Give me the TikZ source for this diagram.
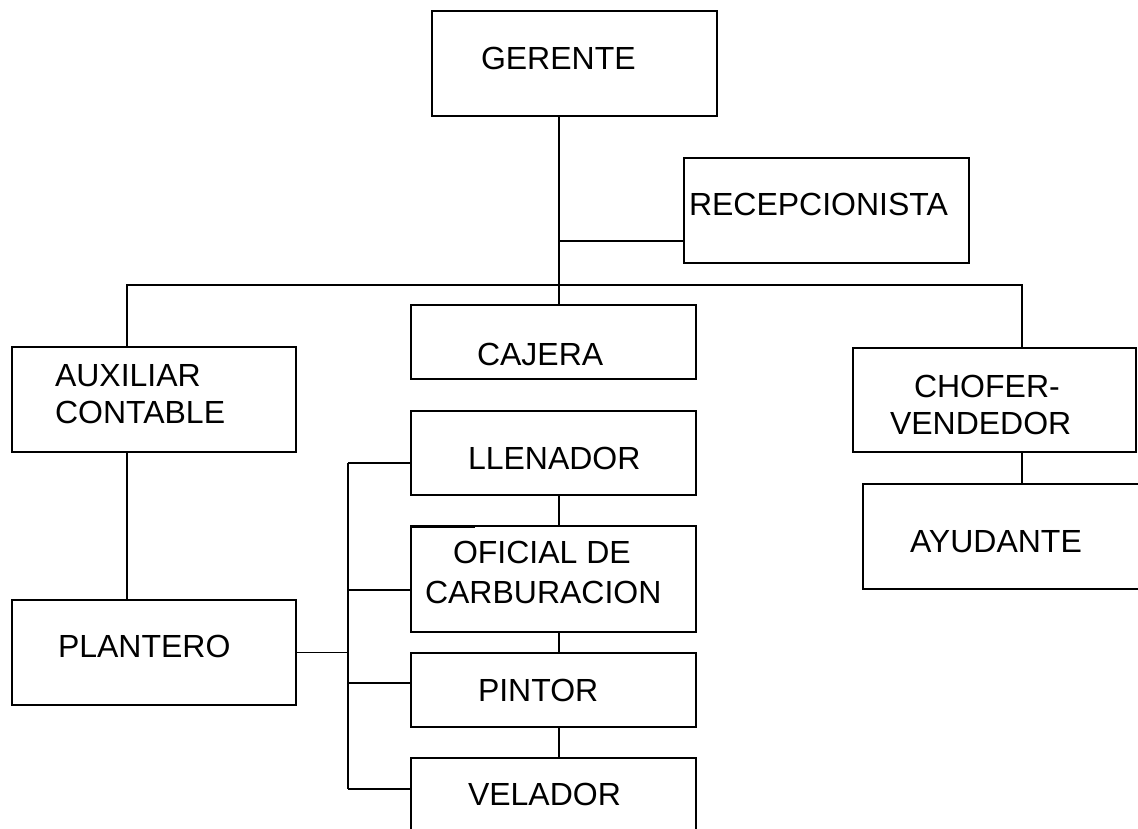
\documentclass[tikz,border=0pt]{standalone}
\usepackage{fontspec}
\setmainfont{Liberation Sans}
\begin{document}
\begin{tikzpicture}[x=1pt,y=-1pt,
  box/.style={draw=black, line width=1.5pt, inner sep=0pt, outer sep=0pt, fill=white},
  wire/.style={draw=black, line width=1.5pt},
  lbl/.style={anchor=base west, inner sep=0pt, outer sep=0pt, font=\fontsize{32}{37}\selectfont}]
\useasboundingbox (0,0) rectangle (1138,828);
\clip (0,0) rectangle (1138,828);

% bus and junction points
\coordinate (trunk) at (559,285);
\coordinate (recj)  at (559,241);
\coordinate (barL)  at (127,285);
\coordinate (barR)  at (1022,285);
\coordinate (bus)   at (348,652.5);
\coordinate (busT)  at (348,463);
\coordinate (busO)  at (348,590);
\coordinate (busP)  at (348,683);
\coordinate (busB)  at (348,789);

% boxes
\node[box, minimum width=285pt, minimum height=105pt] (ger) at (574.5,63.5) {};
\node[box, minimum width=285pt, minimum height=105pt] (rec) at (826.5,210.5) {};
\node[box, minimum width=285pt, minimum height=74pt]  (caj) at (553.5,342) {};
\node[box, minimum width=284pt, minimum height=105pt] (aux) at (154,399.5) {};
\node[box, minimum width=283pt, minimum height=104pt] (cho) at (994.5,400) {};
\node[box, minimum width=282pt, minimum height=105pt] (ayu) at (1004,536.5) {};
\node[box, minimum width=285pt, minimum height=84pt]  (lle) at (553.5,453) {};
\node[box, minimum width=285pt, minimum height=106pt] (ofi) at (553.5,579) {};
\node[box, minimum width=285pt, minimum height=74pt]  (pin) at (553.5,690) {};
\node[box, minimum width=285pt, minimum height=102pt] (vel) at (553.5,809) {};
\node[box, minimum width=284pt, minimum height=105pt] (pla) at (154,652.5) {};

% connectors
\draw[wire] (trunk |- ger.south) -- (trunk |- caj.north);
\draw[wire] (recj) -- (recj -| rec.west);
\draw[wire] (barL |- aux.north) -- (barL) -- (barR) -- (barR |- cho.north);
\draw[wire] (barL |- aux.south) -- (barL |- pla.north);
\draw[wire] (barR |- cho.south) -- (barR |- ayu.north);
\draw[wire] (bus -| pla.east) -- (bus);
\draw[wire] (busT) -- (busB);
\draw[wire] (busT) -- (busT -| lle.west);
\draw[wire] (busO) -- (busO -| ofi.west);
\draw[wire] (busP) -- (busP -| pin.west);
\draw[wire] (busB) -- (busB -| vel.west);
\draw[wire] (trunk |- lle.south) -- (trunk |- ofi.north);
\draw[wire] (trunk |- ofi.south) -- (trunk |- pin.north);
\draw[wire] (trunk |- pin.south) -- (trunk |- vel.north);
\draw[line width=2pt] ([xshift=1pt,yshift=-1pt]ofi.north west) -- ++(63,0);

% labels
\node[lbl] (tger) at (481,69)  {GERENTE};
\node[lbl] (trec) at (689,215) {RECEPCIONISTA};
\node[lbl] (tcaj) at (477,365) {CAJERA};
\node[lbl] (taux1) at (55,386) {AUXILIAR};
\node[lbl] (taux2) at (55,423) {CONTABLE};
\node[lbl] (tcho1) at (914,397) {CHOFER-};
\node[lbl] (tcho2) at (890,434) {VENDEDOR};
\node[lbl] (tayu) at (910,552) {AYUDANTE};
\node[lbl] (tlle) at (468,469) {LLENADOR};
\node[lbl] (tofi1) at (453,563) {OFICIAL DE};
\node[lbl] (tofi2) at (425,603) {CARBURACION};
\node[lbl] (tpin) at (478,701) {PINTOR};
\node[lbl] (tvel) at (468,805) {VELADOR};
\node[lbl] (tpla) at (58,657)  {PLANTERO};
\end{tikzpicture}
\end{document}
